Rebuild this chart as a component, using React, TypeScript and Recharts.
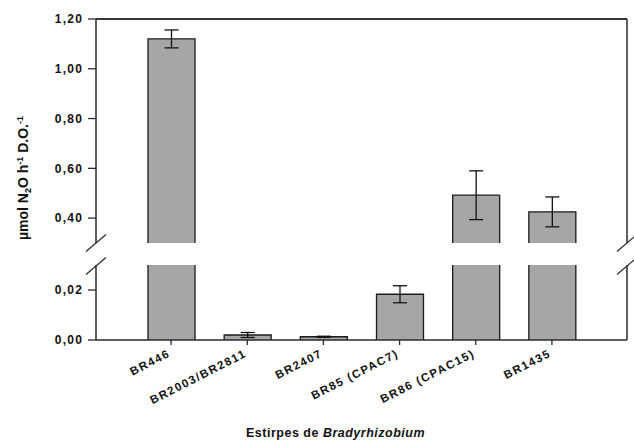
import { BarChart, Bar, XAxis, YAxis, ErrorBar, ReferenceLine, Label } from 'recharts'

// estirpes (eixo x)
const strains = ['BR446', 'BR2003/BR2811', 'BR2407', 'BR85 (CPAC7)', 'BR86 (CPAC15)', 'BR1435']
// médias e erro padrão
const means = [1.12, 0.002, 0.0013, 0.0183, 0.492, 0.425]
const errors = [0.036, 0.001, 0.0002, 0.0034, 0.098, 0.06]

// eixo y quebrado: dois segmentos
const upperDomain = [0.3, 1.2]
const lowerDomain = [0, 0.03]
const upperTicks = [0.4, 0.6, 0.8, 1.0, 1.2]
const lowerTicks = [0, 0.02]

const FONT = "'Liberation Sans', Arial, sans-serif"
const AXIS = '#2a2a2a'
const BAR_FILL = '#a6a6a6'

const upperData = strains.map((s, i) => ({
  strain: s,
  value: means[i] >= upperDomain[0] ? means[i] : null,
  err: means[i] >= upperDomain[0] ? errors[i] : null
}))

const lowerData = strains.map((s, i) => ({
  strain: s,
  value: means[i],
  err: means[i] <= lowerDomain[1] ? errors[i] : null
}))

const fmt = (v: number) => v.toFixed(2).replace('.', ',')

const tickStyle = { fontSize: 12, fontWeight: 'bold', fill: '#111', fontFamily: FONT, letterSpacing: 1.2 }

// barra sem borda inferior (para o corte do eixo)
function OpenBar(props: any) {
  const { x, y, width, height } = props
  if (height == null || isNaN(y) || isNaN(height)) return null
  return (
    <g>
      <rect x={x} y={y} width={width} height={height} fill={BAR_FILL} />
      <path
        d={`M${x},${y + height} V${y} H${x + width} V${y + height}`}
        fill="none"
        stroke="#1a1a1a"
        strokeWidth={1.3}
      />
    </g>
  )
}

function StrainTick({ x, y, payload }: any) {
  return (
    <g transform={`translate(${x},${y + 11}) rotate(-27)`}>
      <text x={0} y={0} textAnchor="end" fontSize={11.5} fontWeight="bold" letterSpacing={1.5} fill="#111" fontFamily={FONT}>
        {payload.value}
      </text>
    </g>
  )
}

function XTitle({ viewBox }: any) {
  const { x, y, height } = viewBox
  return (
    <text x={x + 150} y={y + height - 4} fontSize={12.5} fontWeight="bold" letterSpacing={0.5} fill="#111" fontFamily={FONT}>
      Estirpes de <tspan fontStyle="italic">Bradyrhizobium</tspan>
    </text>
  )
}

// marcas de quebra do eixo + título do eixo y
function BreakMarks() {
  const marks: Array<[number, number]> = [[96, 243], [96, 266], [627, 243], [627, 266]]
  return (
    <svg width={634} height={441} style={{ position: 'absolute', left: 0, top: 0, pointerEvents: 'none' }}>
      {marks.map(([cx, cy], i) => (
        <line key={i} x1={cx - 10} y1={cy + 8.5} x2={cx + 10} y2={cy - 8.5} stroke={AXIS} strokeWidth={1.2} />
      ))}
      <text
        transform="translate(28,178) rotate(-90)"
        textAnchor="middle"
        fontSize={14}
        fontWeight="bold"
        fill="#111"
        fontFamily={FONT}
      >
        µmol N<tspan dy={3} fontSize={9}>2</tspan>
        <tspan dy={-3}>O h</tspan>
        <tspan dy={-5} fontSize={9}>-1</tspan>
        <tspan dy={5}> D.O.</tspan>
        <tspan dy={-5} fontSize={9}>-1</tspan>
      </text>
    </svg>
  )
}

export default function App() {
  return (
    <div style={{ position: 'absolute', left: 0, top: 0, width: 634, height: 441, background: '#fff' }}>
      {/* segmento superior 0,30 - 1,20 */}
      <div style={{ position: 'absolute', left: 0, top: 0 }}>
        <BarChart width={634} height={243} data={upperData} margin={{ top: 0, right: 6, bottom: 0, left: 36 }}>
          <XAxis dataKey="strain" hide padding={{ left: 37, right: 37 }} />
          <XAxis
            xAxisId="top"
            dataKey="strain"
            orientation="top"
            height={19}
            padding={{ left: 37, right: 37 }}
            tick={false}
            tickLine={false}
            axisLine={{ stroke: AXIS, strokeWidth: 1.5 }}
          />
          <YAxis
            yAxisId="l"
            width={60}
            domain={upperDomain}
            ticks={upperTicks}
            allowDataOverflow
            tickFormatter={fmt}
            tick={tickStyle}
            tickSize={8}
            tickMargin={5}
            axisLine={{ stroke: AXIS, strokeWidth: 1.5 }}
            tickLine={{ stroke: AXIS, strokeWidth: 1.3 }}
          />
          <YAxis
            yAxisId="r"
            orientation="right"
            width={1}
            domain={upperDomain}
            tick={false}
            tickLine={false}
            axisLine={{ stroke: AXIS, strokeWidth: 1.5 }}
          />
          <ReferenceLine yAxisId="l" y={1.2} stroke={AXIS} strokeWidth={1.5} ifOverflow="visible" />
          <Bar yAxisId="l" dataKey="value" barSize={47} shape={<OpenBar />} isAnimationActive={false}>
            <ErrorBar dataKey="err" width={7} stroke="#111" strokeWidth={1.3} direction="y" isAnimationActive={false} />
          </Bar>
        </BarChart>
      </div>
      {/* segmento inferior 0,00 - 0,03 */}
      <div style={{ position: 'absolute', left: 0, top: 265 }}>
        <BarChart width={634} height={176} data={lowerData} margin={{ top: 0, right: 6, bottom: 0, left: 36 }}>
          <XAxis
            dataKey="strain"
            padding={{ left: 37, right: 37 }}
            height={101}
            interval={0}
            tick={<StrainTick />}
            tickSize={5}
            tickMargin={0}
            axisLine={{ stroke: AXIS, strokeWidth: 1.5 }}
            tickLine={{ stroke: AXIS, strokeWidth: 1.3 }}
          >
            <Label content={<XTitle />} />
          </XAxis>
          <YAxis
            yAxisId="l"
            width={60}
            domain={lowerDomain}
            ticks={lowerTicks}
            allowDataOverflow
            tickFormatter={fmt}
            tick={tickStyle}
            tickSize={8}
            tickMargin={5}
            axisLine={{ stroke: AXIS, strokeWidth: 1.5 }}
            tickLine={{ stroke: AXIS, strokeWidth: 1.3 }}
          />
          <YAxis
            yAxisId="r"
            orientation="right"
            width={1}
            domain={lowerDomain}
            allowDataOverflow
            tick={false}
            tickLine={false}
            axisLine={{ stroke: AXIS, strokeWidth: 1.5 }}
          />
          <Bar yAxisId="l" dataKey="value" barSize={47} shape={<OpenBar />} isAnimationActive={false}>
            <ErrorBar dataKey="err" width={7} stroke="#111" strokeWidth={1.3} direction="y" isAnimationActive={false} />
          </Bar>
        </BarChart>
      </div>
      <BreakMarks />
    </div>
  )
}
